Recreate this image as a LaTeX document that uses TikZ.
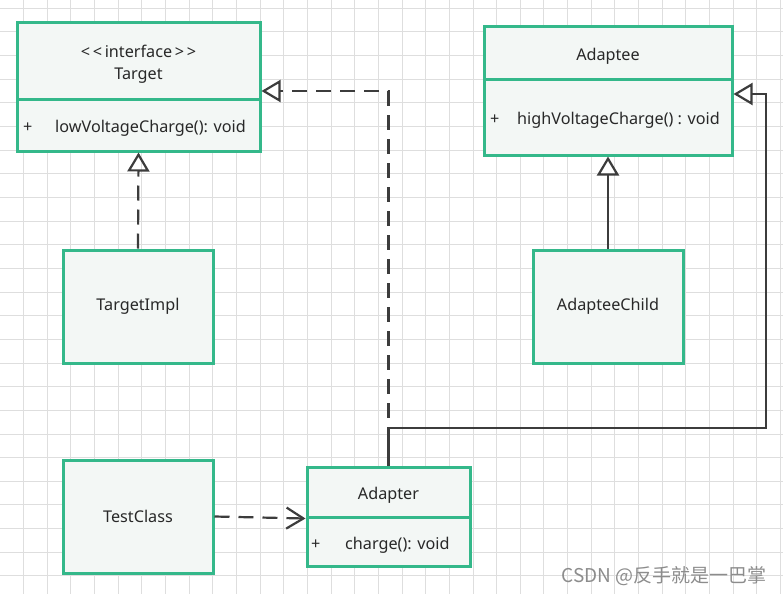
\documentclass[tikz,border=0pt]{standalone}
\usepackage{fontspec}
\setmainfont{Noto Sans}
\newfontfamily\cjkfont{Noto Sans CJK SC}
\usetikzlibrary{arrows.meta}
\definecolor{boxgreen}{RGB}{52,184,138}
\definecolor{boxfill}{RGB}{243,247,245}
\definecolor{linec}{RGB}{60,60,60}
\definecolor{textc}{RGB}{40,40,40}
\definecolor{gridc}{RGB}{222,222,222}
\tikzset{
  umlbox/.style={draw=boxgreen, fill=boxfill, line width=3pt, inner sep=0pt, text=textc, font=\fontsize{16.2}{19}\selectfont},
  txt/.style={inner sep=0pt, text=textc, font=\fontsize{16.2}{19}\selectfont},
  conn/.style={draw=linec, line width=2.2pt},
  dashedconn/.style={conn, dash pattern=on 15pt off 9pt},
  realize/.style={-{Triangle[open, length=19pt, width=22pt, line width=2.2pt]}},
  depend/.style={-{Straight Barb[length=17pt, width=21pt, line width=2.2pt]}},
}
\begin{document}
\begin{tikzpicture}[x=1pt, y=-1pt]
\fill[white] (0,0) rectangle (783,594);
\useasboundingbox (0,0) rectangle (783,594);
% grid
\foreach \i in {1,...,33} {\draw[gridc, line width=1pt] ({23.65*\i},0) -- ({23.65*\i},594);}
\foreach \j in {0,...,25} {\draw[gridc, line width=1pt] (0,{8.3+23.65*\j}) -- (783,{8.3+23.65*\j});}

% Target
\node[umlbox, minimum width=243pt, minimum height=76pt] (targetH) at (138.5,61) {};
\node[umlbox, minimum width=243pt, minimum height=52pt] (targetB) at (138.5,125) {};
\node[txt] (targetS) at (138.5,51.5) {<\,<\,interface\,>\,>};
\node[txt] (targetN) at (138.5,76) {Target};
\node[txt, anchor=west] (targetP) at (23,128) {+};
\node[txt, anchor=west] (targetM) at (55,128) {lowVoltageCharge(): void};

% Adaptee
\node[umlbox, minimum width=248pt, minimum height=52pt] (adapteeH) at (608,53) {};
\node[umlbox, minimum width=248pt, minimum height=76pt] (adapteeB) at (608,117) {};
\node[txt] (adapteeN) at (608,56) {Adaptee};
\node[txt, anchor=west] (adapteeP) at (490,120) {+};
\node[txt, anchor=west] (adapteeM) at (517,120) {highVoltageCharge() : void};

% TargetImpl, AdapteeChild, TestClass
\node[umlbox, minimum width=150pt, minimum height=113pt] (timpl) at (138,306.5) {TargetImpl};
\node[umlbox, minimum width=150pt, minimum height=113pt] (achild) at (608,306.5) {AdapteeChild};
\node[umlbox, minimum width=150pt, minimum height=113pt] (testc) at (138,516.5) {TestClass};

% Adapter
\node[umlbox, minimum width=163pt, minimum height=50pt] (adapterH) at (388.5,492) {};
\node[umlbox, minimum width=163pt, minimum height=49pt] (adapterB) at (388.5,541.5) {};
\node[txt] (adapterN) at (388.5,495) {Adapter};
\node[txt, anchor=west] (adapterP) at (311,545) {+};
\node[txt, anchor=west] (adapterM) at (345,545) {charge(): void};

% connectors
\coordinate (c1) at (766,428);
\draw[conn, realize] (achild.north) -- (adapteeB.south);
\draw[conn, realize] (adapterH.north) |- (c1) |- ([yshift=23pt]adapteeB.east);
\draw[dashedconn, realize] (timpl.north) -- (targetB.south);
\draw[dashedconn, realize] (adapterH.north) |- ([yshift=-30pt]targetH.east);
\draw[dashedconn, depend] (testc.east) -- (adapterH.south west);

% watermark
\node[inner sep=0pt, anchor=east, text=black!45, font=\cjkfont\fontsize{19}{21}\selectfont] (wm) at (767,576) {CSDN @反手就是一巴掌};
\end{tikzpicture}
\end{document}
